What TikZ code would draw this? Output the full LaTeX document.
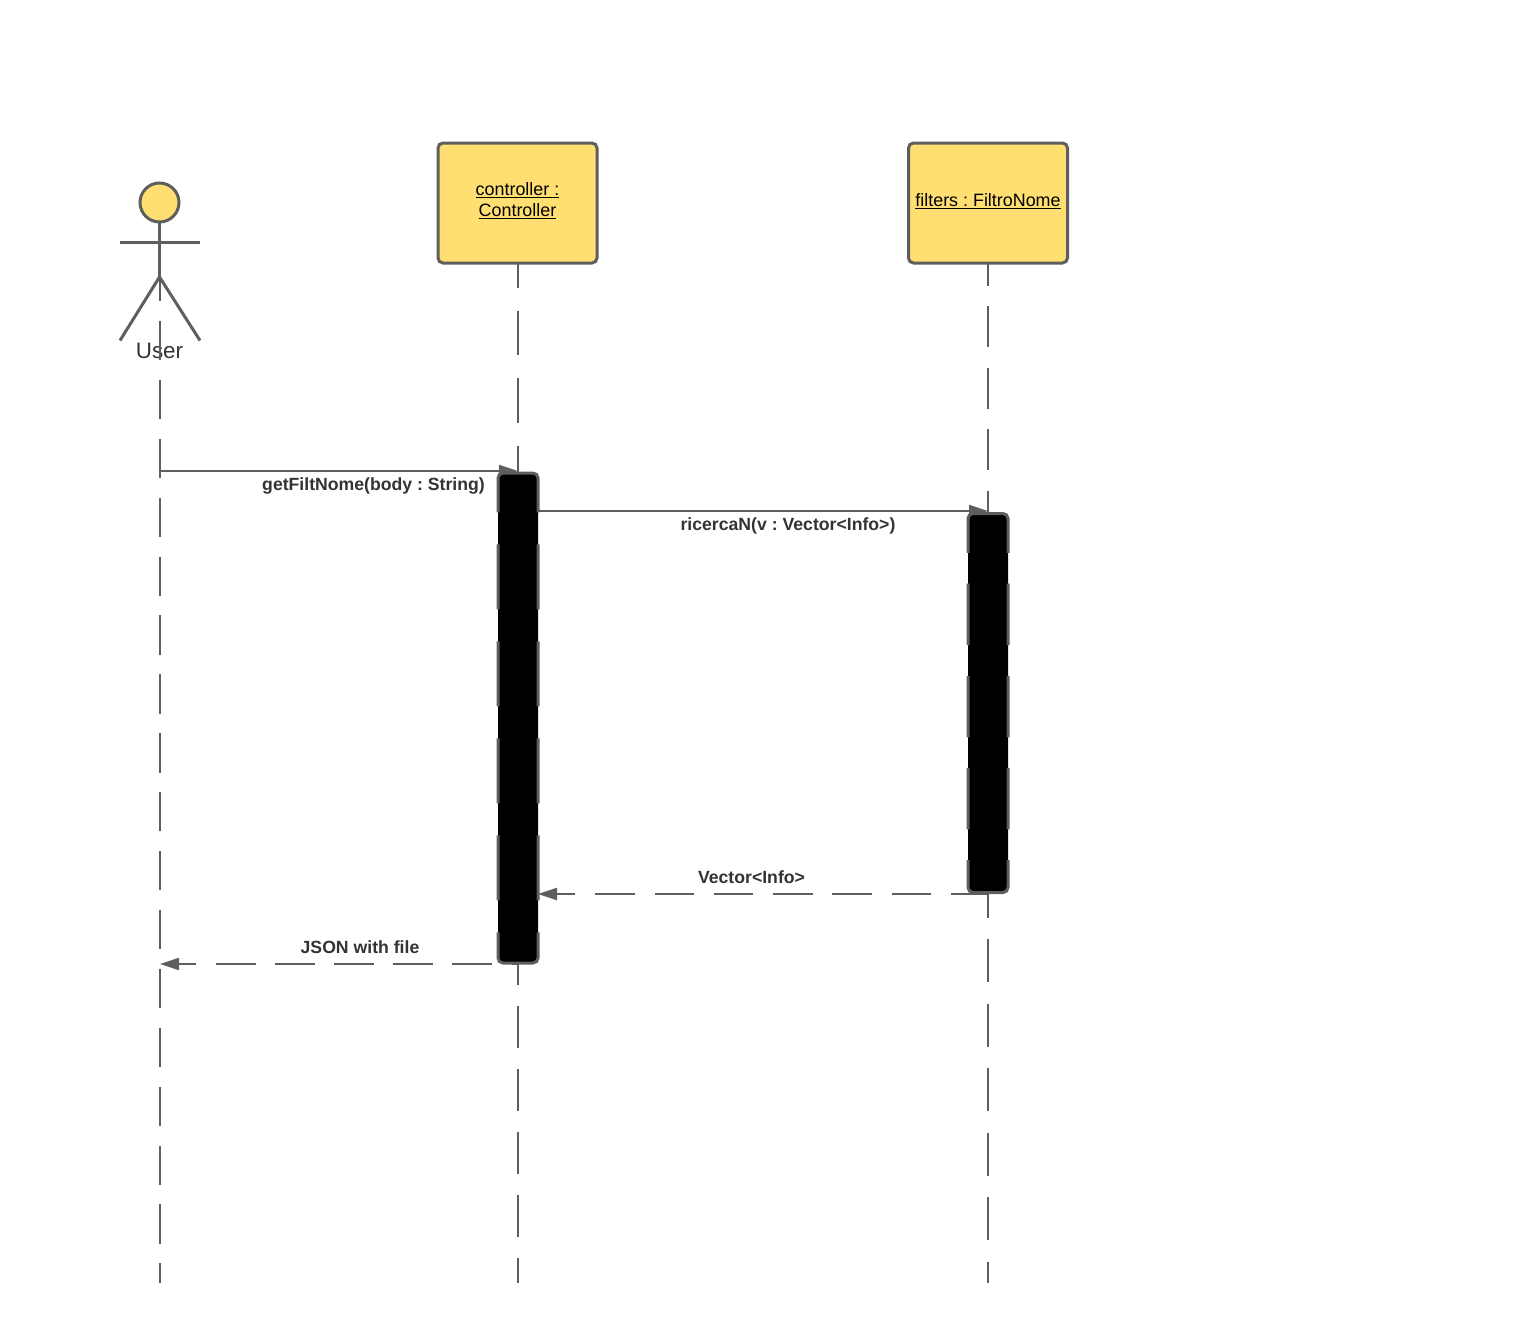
\documentclass[tikz,border=0pt]{standalone}
\usepackage{fontspec}
\setmainfont{Liberation Sans}
\usepackage{xcolor}
\usetikzlibrary{arrows.meta,backgrounds}

\definecolor{lineGray}{HTML}{5E5E5E}
\definecolor{textGray}{HTML}{333333}
\definecolor{boxYellow}{HTML}{FFDF71}

\tikzset{
  objbox/.style={draw=lineGray, fill=boxYellow, line width=3pt, rounded corners=5pt,
    minimum width=159pt, minimum height=120pt, inner sep=0pt, outer sep=0pt, align=center,
    text=black, font=\frenchspacing\fontsize{17.9}{21}\selectfont},
  activation/.style={fill=black, rounded corners=5pt, minimum width=40pt, inner sep=0pt, outer sep=0pt},
  actedge/.style={draw=lineGray, line width=3pt, rounded corners=5pt},
  actor/.style={draw=lineGray, line width=3pt},
  lifeline/.style={draw=lineGray, line width=2pt},
  msg/.style={draw=lineGray, line width=2pt, -{Triangle[length=19pt,width=12pt]}},
  msglabel/.style={text=textGray, inner sep=0pt, font=\frenchspacing\bfseries\fontsize{17.65}{21}\selectfont}
}

\begin{document}
\begin{tikzpicture}[x=1pt, y=-1pt]
  \useasboundingbox (0,0) rectangle (1524,1323);

  % Define coordinates for nodes
  \node[objbox, text depth=7pt] (controller) at (517.5, 203) {\underline{controller :}\\\underline{Controller}};
  \node[objbox, text depth=5pt] (filters) at (988, 203) {\underline{filters : FiltroNome}};
  \node[activation, minimum height=490pt] (actC) at (518, 718) {};
  \node[activation, minimum height=379pt] (actF) at (988, 703) {};
  \node[draw=lineGray, fill=boxYellow, line width=3pt, circle, minimum size=39pt, inner sep=0pt, outer sep=0pt] (head) at (159.5, 202.5) {};
  \node[text=textGray, inner sep=0pt, font=\fontsize{22.4}{26}\selectfont] (user) at (159.5, 351) {User};

  \coordinate (hip) at (159.5, 277);
  \coordinate (armL) at (120, 242);
  \coordinate (armR) at (200, 242);
  \coordinate (footL) at (120, 340.5);
  \coordinate (footR) at (200, 340.5);
  \coordinate (userTop) at (160, 262);
  \coordinate (userEnd) at (160, 1283);
  \coordinate (contEnd) at (518, 1283);
  \coordinate (filtEnd) at (988, 1283);

  \coordinate (callA) at (160, 471);
  \coordinate (callB) at (518, 471);
  \coordinate (callC) at (538, 511);
  \coordinate (callD) at (988, 511);
  \coordinate (backA) at (988, 894);
  \coordinate (backB) at (538, 894);
  \coordinate (backC) at (518, 964);
  \coordinate (backD) at (160, 964);

  % Labels of the messages
  \node[msglabel] (callLabel) at (373.5, 485.5) {getFiltNome(body : String)};
  \node[msglabel] (searchLabel) at (788, 525.5) {ricercaN(v : Vector<Info>)};
  \node[msglabel] (resultLabel) at (751.5, 877.5) {Vector<Info>};
  \node[msglabel] (jsonLabel) at (360, 947.5) {JSON with file};

  % Actor
  \draw[actor] (head) -- (hip);
  \draw[actor] (armL) -- (armR);
  \draw[actor] (footL) -- (hip) -- (footR);

  % Lifelines
  \draw[lifeline, dash pattern=on 39.3pt off 19.6pt] (userTop) -- (userEnd);
  \draw[lifeline, dash pattern=on 44.5pt off 23pt, dash phase=20pt] (actC |- controller.south) -- (actC.north);
  \draw[lifeline, dash pattern=on 42pt off 21pt, dash phase=20pt] (actC.south) -- (contEnd);
  \draw[lifeline, dash pattern=on 41pt off 20.5pt, dash phase=18.5pt] (filters) -- (actF);
  \draw[lifeline, dash pattern=on 43pt off 21.5pt, dash phase=18pt] (actF) -- (filtEnd);

  % Draw arrows between nodes
  \begin{scope}[on background layer]
    \draw[msg] (callA) -- (callB);
    \draw[msg] (callC) -- (callD);
    \draw[msg, dash pattern=on 39.5pt off 19.8pt, dash phase=2.5pt] (backA) -- (backB);
    \draw[msg, dash pattern=on 39.5pt off 19.6pt, dash phase=33pt] (backC) -- (backD);
  \end{scope}

  % Broken outline of the activation bars
  \draw[actedge, dash pattern=on 65pt off 32pt, dash phase=8pt] (actC.north) -- (actC.north west) -- (actC.south west) -- (actC.south);
  \draw[actedge, dash pattern=on 65pt off 32pt, dash phase=8pt] (actC.north) -- (actC.north east) -- (actC.south east) -- (actC.south);
  \draw[actedge, dash pattern=on 61.5pt off 30.7pt, dash phase=4.5pt] (actF.north) -- (actF.north west) -- (actF.south west) -- (actF.south);
  \draw[actedge, dash pattern=on 61.5pt off 30.7pt, dash phase=4.5pt] (actF.north) -- (actF.north east) -- (actF.south east) -- (actF.south);

\end{tikzpicture}
\end{document}
